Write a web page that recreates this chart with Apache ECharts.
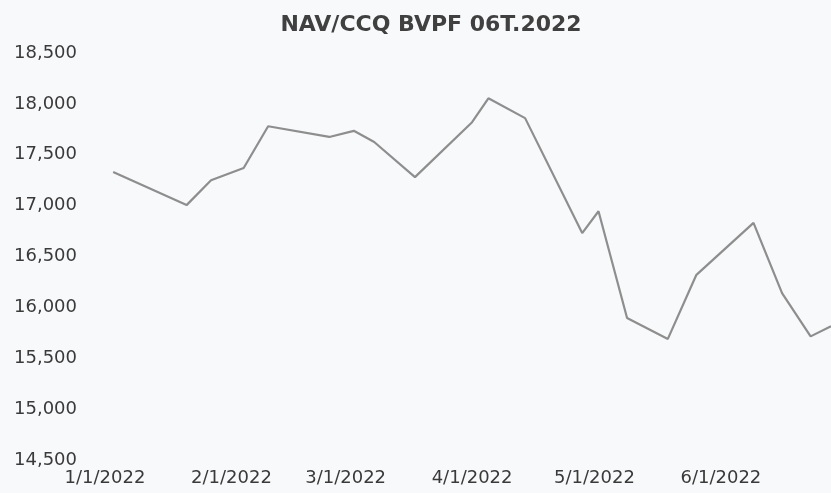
<!DOCTYPE html>
<html>
<head>
<meta charset="utf-8">
<script src="https://cdn.jsdelivr.net/npm/echarts@6/dist/echarts.min.js"></script>
<style>
  html, body { margin: 0; padding: 0; background: #f8f9fb; }
  #nav { width: 831px; height: 493px; }
</style>
</head>
<body>
<div id="nav"></div>
<script type="text/javascript">
// NAV/CCQ theo ngay (doc tu hinh)
var navDates = ['2022-01-03', '2022-01-21', '2022-01-27', '2022-02-04', '2022-02-10',
                '2022-02-25', '2022-03-03', '2022-03-08', '2022-03-18', '2022-04-01',
                '2022-04-05', '2022-04-14', '2022-04-28', '2022-05-02', '2022-05-09',
                '2022-05-19', '2022-05-26', '2022-06-09', '2022-06-16', '2022-06-23',
                '2022-06-28'];
var navValues = [17330, 17005, 17250, 17370, 17780,
                 17675, 17735, 17625, 17280, 17820,
                 18055, 17860, 16730, 16945, 15895,
                 15690, 16320, 16830, 16140, 15715,
                 15815];
// nhan truc hoanh: dau moi thang
var monthTicks = ['2022-01-01', '2022-02-01', '2022-03-01', '2022-04-01', '2022-05-01', '2022-06-01'];
var yTicks = [14500, 15000, 15500, 16000, 16500, 17000, 17500, 18000, 18500];

function ts(s) {
    var p = s.split('-');
    return Date.UTC(+p[0], +p[1] - 1, +p[2]);
}

var myChart = echarts.init(document.getElementById('nav'));
var option = {
    backgroundColor: '#f8f9fb',
    animation: false,
    title: {
        text: 'NAV/CCQ BVPF 06T.2022',
        left: 431,
        top: 14,
        padding: 0,
        textAlign: 'center',
        textStyle: { fontFamily: 'DejaVu Sans', fontSize: 22, fontWeight: 'bold', color: '#404040' }
    },
    grid: { left: 105, right: 0, top: 53, bottom: 33, containLabel: false },
    xAxis: {
        type: 'value',
        min: ts('2022-01-01'),
        max: ts('2022-06-28'),
        axisLine: { show: false },
        axisTick: { show: false },
        splitLine: { show: false },
        axisLabel: {
            customValues: monthTicks.map(ts),
            margin: 9,
            fontFamily: 'DejaVu Sans',
            fontSize: 18,
            color: '#3a3a3a',
            formatter: function (v) {
                var d = new Date(v);
                return (d.getUTCMonth() + 1) + '/' + d.getUTCDate() + '/' + d.getUTCFullYear();
            }
        }
    },
    yAxis: {
        type: 'value',
        min: yTicks[0],
        max: yTicks[yTicks.length - 1],
        interval: 500,
        axisLine: { show: false },
        axisTick: { show: false },
        splitLine: { show: false },
        axisLabel: {
            align: 'left',
            margin: 91,
            fontFamily: 'DejaVu Sans',
            fontSize: 18,
            color: '#3a3a3a',
            formatter: function (v) { return v.toLocaleString('en-US'); }
        }
    },
    series: [{
        name: 'NAV/CCQ',
        type: 'line',
        showSymbol: false,
        clip: true,
        lineStyle: { color: '#8e8e8e', width: 2.2 },
        data: navDates.map(function (d, i) { return [ts(d), navValues[i]]; })
    }]
};
myChart.setOption(option);
</script>
</body>
</html>
